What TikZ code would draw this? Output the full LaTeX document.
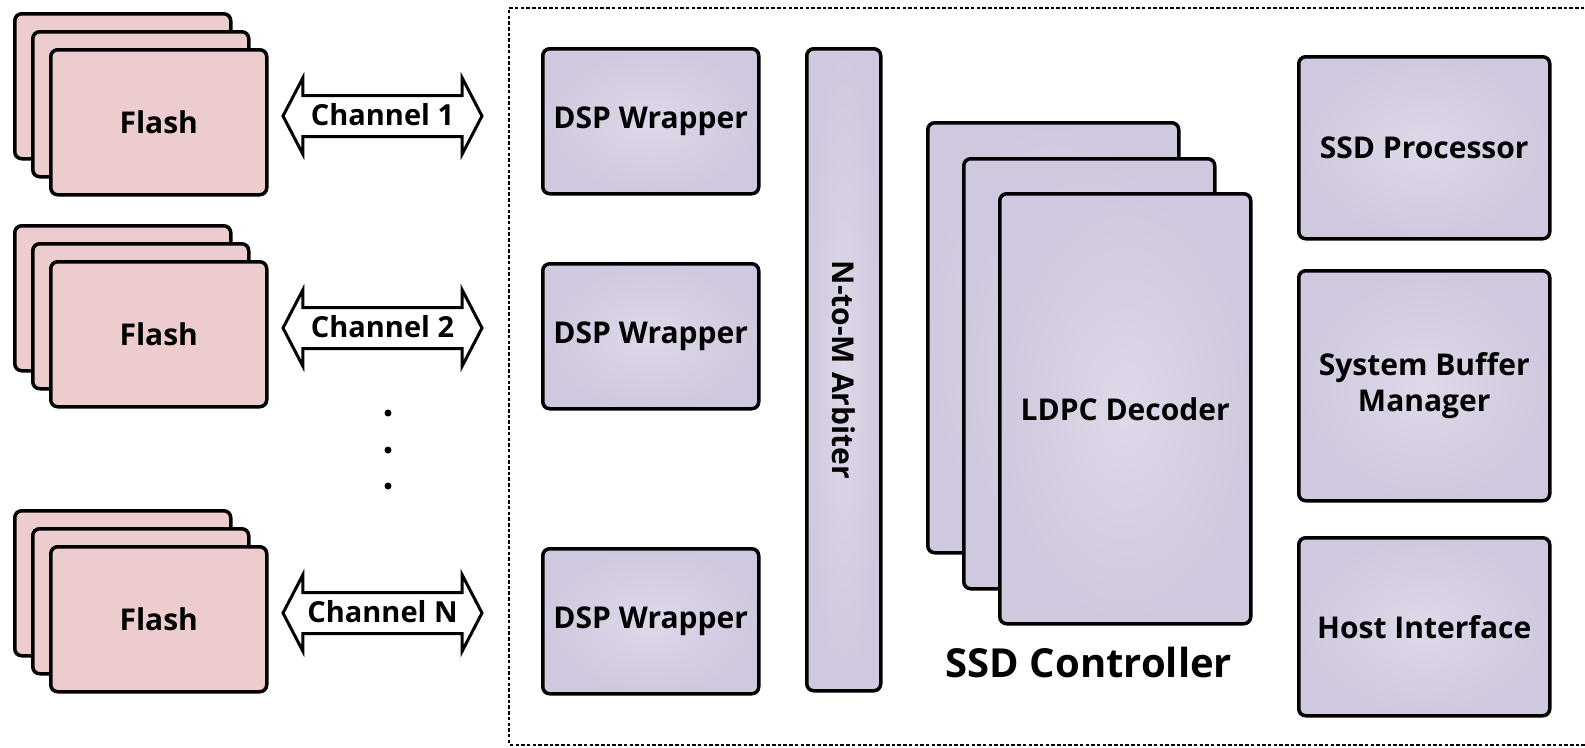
\documentclass[tikz,border=0pt]{standalone}
\usepackage{fontspec}
\setmainfont{Open Sans}
\usetikzlibrary{shapes.arrows}
\definecolor{flashpink}{RGB}{236,204,204}
\definecolor{lavin}{RGB}{222,216,233}
\definecolor{lavout}{RGB}{208,200,222}
\tikzset{
  box/.style={draw=black, line width=3.5pt, rounded corners=7pt, anchor=north west,
    font=\fontsize{30}{36}\selectfont\bfseries, align=center, inner sep=0pt},
  flashbox/.style={box, fill=flashpink, minimum width=216pt, minimum height=145pt},
  purplebox/.style={box, inner color=lavin, outer color=lavout},
  chan/.style={shape=double arrow, draw=black, fill=white, line width=3pt,
    minimum height=199pt, minimum width=73pt, double arrow head extend=17.5pt,
    double arrow tip angle=125, inner xsep=2pt, inner ysep=8pt,
    text height=20pt, text depth=2pt, font=\fontsize{29}{35}\selectfont\bfseries},
  dot/.style={circle, fill=black, inner sep=0pt, minimum size=7pt},
  border/.style={line width=2pt, dash pattern=on 3.5pt off 2.2pt, draw=black}
}
\begin{document}
\begin{tikzpicture}[x=1pt,y=-1pt]
\useasboundingbox (0,0) rectangle (1585,747);
% border
\draw[border] (1590,8) -- (509,8) -- (509,744.5) -- (1590,744.5);
% flash stacks
\foreach \d/\i/\lab in {0/1/1, 212/2/2, 497/3/N}{
  \node[flashbox] (fb\i) at (13,12+\d) {};
  \node[flashbox] (fm\i) at (31,30+\d) {};
  \node[flashbox] (ff\i) at (49,48+\d) {Flash};
  \node[chan] (ch\i) at (382.5,116+\d) {Channel \lab};
}
% dots
\node[dot] (d1) at (388,413) {};
\node[dot] (d2) at (388,450) {};
\node[dot] (d3) at (388,486) {};
% DSP wrappers
\foreach \d/\i in {0/1, 215/2, 500/3}{
  \node[purplebox, minimum width=216pt, minimum height=145pt] (dsp\i) at (541,47+\d) {DSP Wrapper};
}
% arbiter
\node[purplebox, minimum width=74pt, minimum height=642pt] (arb) at (805,47) {};
\node[font=\fontsize{30}{36}\selectfont\bfseries, rotate=-90] (arbt) at (arb.center) {N-to-M Arbiter};
% LDPC stack
\node[purplebox, minimum width=251pt, minimum height=430pt] (ldb) at (926,121) {};
\node[purplebox, minimum width=251pt, minimum height=430pt] (ldm) at (962,157) {};
\node[purplebox, minimum width=251pt, minimum height=430pt] (ldf) at (998,192) {LDPC Decoder};
\node[font=\fontsize{40}{48}\selectfont\bfseries] (ctrl) at (1089,662) {SSD Controller};
% right column
\node[purplebox, minimum width=251pt, minimum height=182pt] (proc) at (1297,55) {SSD Processor};
\node[purplebox, minimum width=251pt, minimum height=230pt] (sbm) at (1297,269) {System Buffer\\Manager};
\node[purplebox, minimum width=251pt, minimum height=178pt] (host) at (1297,536) {Host Interface};
\end{tikzpicture}
\end{document}
